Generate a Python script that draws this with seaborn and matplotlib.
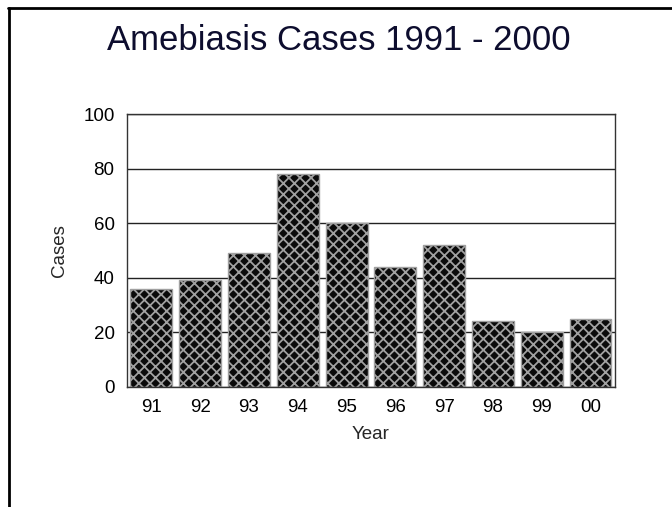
import matplotlib
matplotlib.use("Agg")
import matplotlib.pyplot as plt
import seaborn as sns
import pandas as pd
from matplotlib.lines import Line2D

years = ['91', '92', '93', '94', '95', '96', '97', '98', '99', '00']
cases = [36, 39, 49, 78, 60, 44, 52, 24, 20, 25]
y_ticks = [0, 20, 40, 60, 80, 100]

df = pd.DataFrame({'Year': years, 'Cases': cases})

sns.set_theme(style="white")
plt.rcParams['font.family'] = ['Liberation Sans', 'DejaVu Sans']
plt.rcParams['hatch.linewidth'] = 1.3

fig = plt.figure(figsize=(6.72, 5.07), dpi=100)
ax = fig.add_axes([0.189, 0.237, 0.726, 0.538])

sns.barplot(data=df, x='Year', y='Cases', order=years, color='#0a0a0a',
            saturation=1, width=0.86, ax=ax, hatch='xxx',
            edgecolor='#a0a0a0', linewidth=1)

ax.set_ylim(0, 100)
ax.set_yticks(y_ticks)
ax.set_xlim(-0.5, len(years) - 0.5)
ax.yaxis.grid(True, color='#222222', linewidth=1)
ax.set_axisbelow(True)
for s in ax.spines.values():
    s.set_color('#333333')
    s.set_linewidth(1)
ax.tick_params(axis='both', length=0, labelsize=13.5, colors='black')
ax.tick_params(axis='y', pad=9)
ax.tick_params(axis='x', pad=9)
ax.set_xlabel('Year', fontsize=13.5, labelpad=7)
ax.set_ylabel('Cases', fontsize=13.5, labelpad=11)

fig.text(0.504, 0.901, 'Amebiasis Cases 1991 - 2000', ha='center',
         va='baseline', fontsize=25, color='#0d0d2e')

# slide frame (left and top edges)
fig.add_artist(Line2D([0.013, 0.013], [0.0, 0.984], transform=fig.transFigure,
                      color='black', linewidth=2))
fig.add_artist(Line2D([0.012, 1.0], [0.984, 0.984], transform=fig.transFigure,
                      color='black', linewidth=2))

fig.savefig("out.png", dpi=100)
